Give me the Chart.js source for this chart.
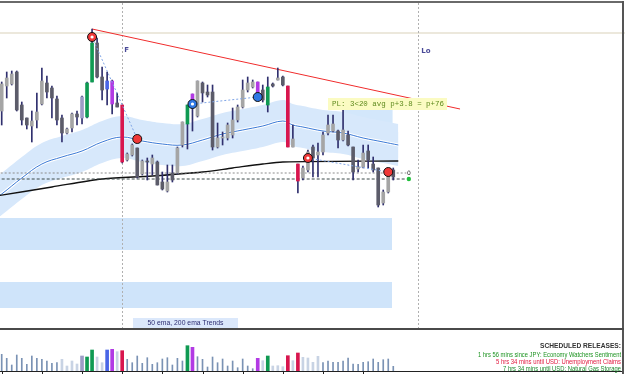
<!DOCTYPE html>
<html>
<head>
<meta charset="utf-8">
<script src="https://cdn.jsdelivr.net/npm/chart.js@4.4.1/dist/chart.umd.min.js"></script>
<style>
  body { margin: 0; background: #fff; }
  #wrap { position: relative; width: 625px; height: 374px; overflow: hidden; }
  #main { position: absolute; left: 0; top: 0; }
  #vol { position: absolute; left: 0; top: 330px; }
</style>
</head>
<body>
<div id="wrap">
  <canvas id="main" width="625" height="330"></canvas>
  <canvas id="vol" width="625" height="44"></canvas>
</div>
<script>
// candles (price in chart units)
const opens  = [289,314,316,328,295,282,274,280,296,317, 312,301,282,267,272,286,282,283,318,357,
                323,319,319,297,295,240,245,252,226,239, 236,238,218,209,227,227,255,276,297,284,
                317,308,308,253,262,262,265,280,293,310, 313,305,310,295,316,320,323,314,253,236,
                222,230,253,245,248,267,269,269,260,265, 253,231,233,249,236,232,197,208,230];
const highs  = [318,328,329,329,298,282,289,307,332,324, 314,304,285,272,287,289,304,318,371,362,
                333,328,320,307,295,247,256,252,240,242, 245,239,228,235,235,253,278,295,306,319,
                318,315,315,277,268,277,292,295,320,323, 320,318,315,323,317,332,324,314,275,236,
                234,250,255,257,268,285,285,270,290,269, 253,240,255,255,243,232,210,230,232];
const lows   = [275,302,315,289,275,271,258,272,295,302, 282,275,258,266,268,275,276,282,318,322,
                300,295,286,293,237,239,244,222,225,220, 225,215,210,208,218,226,253,251,269,283,
                298,303,250,252,255,260,262,278,292,308, 312,300,298,288,313,320,314,253,253,207,
                220,228,223,223,245,265,268,252,259,254, 220,228,232,232,228,193,195,207,220];
const closes = [316,322,326,290,280,275,279,288,319,308, 302,280,267,271,286,283,303,317,357,323,
                310,311,296,293,238,246,255,223,239,238, 242,215,211,218,220,252,278,295,306,319,
                307,305,253,262,263,275,280,293,310,317, 318,318,300,313,314,322,315,253,261,219,
                232,248,242,248,265,275,276,260,270,255, 228,233,247,240,230,195,208,228,223];
// signal colour per candle: g green, r crimson, p purple, b blue, l lavender
const kinds = '----------' + '------lgg-' + '-bp-r-----' + '-------gp-' + '----------' +
              '-p-g---r-r' + '----------' + '---------';

const volumes = [167,127,60,160,127,67,150,127,117,100, 77,83,117,50,100,70,150,140,210,140,
                 83,210,217,193,203,117,83,150,77,133, 67,83,120,133,60,127,100,253,237,143,
                 117,40,140,83,120,50,100,33,120,50, 23,127,103,150,50,53,43,153,103,180,
                 137,130,87,147,83,100,87,87,100,130, 70,67,87,93,120,87,113,120,47];
const volShade = '----------' + '--LLLLL--L' + 'L--L------' + '----------' + '----------' +
                 '--L-LLL-L-' + 'LLLL------' + '---------';

// 50 ema and 200 ema
const ema50At = [-1,0,4,8,12,16,20,24,28,32,36,40,44,48,52,56,58,60,64,68,72,76,79];
const ema50   = [203,206,222,236,243,249,258,263,259,256,255,260,266,270,274,279,275,273,269,267,262,258,255];
const ema200At = [-1,10,20,30,40,46,52,56,79];
const ema200   = [204,213,221,224,228,232,236,238,239];
const bandInner = 13, bandOuter = 21;

const levels = [227, 221];        // dotted order levels
const dayHigh = 367;
const trendFrom = [18, 371], trendTo = [91.3, 291];
const tradeIn  = [18, 38, 61],  tradeInVal  = [363, 296, 242];
const tradeOut = [27, 51, 77],  tradeOutVal = [261, 303, 228];
const tradeSide = ['r', 'b', 'r'];
const zones = [[182, 150], [118, 92]];
const zoneEnd = 77.75;
const trendBox = [68, 77.9, 300, 262];   // from, to, top, bottom
const sessionAt = [24, 83];
const lastIdx = 81.1;

const colors = { g: '#0f9a52', r: '#d8164e', p: '#b23ae4', b: '#4a66e6', l: '#9c9cc6' };
const bull = '#a5a5a5', bear = '#5c5c6a', wick = '#30306e';
const idx = opens.map((_, i) => i);

function bodyColor(i) {
  if (kinds[i] !== '-') return colors[kinds[i]];
  return closes[i] >= opens[i] ? bull : bear;
}
function line(xs, ys, extra) {
  return Object.assign({ type: 'line', data: xs.map((v, i) => ({ x: v, y: ys[i] })),
    pointRadius: 0, borderWidth: 1, fill: false }, extra);
}

const datasets = [];
zones.forEach(z => {
  datasets.push(line([-1, zoneEnd], [z[0], z[0]], { borderWidth: 0, fill: '+1', backgroundColor: '#cfe4fa', order: 40 }));
  datasets.push(line([-1, zoneEnd], [z[1], z[1]], { borderWidth: 0, order: 40 }));
});
datasets.push(line([trendBox[0], trendBox[1]], [trendBox[2], trendBox[2]], { borderWidth: 0, fill: '+1', backgroundColor: '#d3e7fb', order: 36 }));
datasets.push(line([trendBox[0], trendBox[1]], [trendBox[3], trendBox[3]], { borderWidth: 0, order: 36 }));
datasets.push(line(ema50At, ema50.map(v => v + bandOuter), { borderWidth: 0, fill: '+3', backgroundColor: '#d7e8fb', tension: 0.4, order: 35 }));
datasets.push(line(ema50At, ema50.map(v => v + bandInner), { borderWidth: 0, fill: '+1', backgroundColor: '#c3def8', tension: 0.4, order: 35 }));
datasets.push(line(ema50At, ema50.map(v => v - bandInner), { borderWidth: 0, tension: 0.4, order: 35 }));
datasets.push(line(ema50At, ema50.map(v => v - bandOuter), { borderWidth: 0, tension: 0.4, order: 35 }));
datasets.push(line(ema50At, ema50, { borderColor: '#ffffff', borderWidth: 3, tension: 0.4, order: 30 }));
datasets.push(line(ema50At, ema50, { borderColor: '#3b7ad6', borderWidth: 1, tension: 0.4, order: 29 }));
datasets.push(line(ema200At, ema200, { borderColor: '#111111', borderWidth: 1.3, tension: 0.3, order: 28 }));
const dayHighIndex = datasets.length;
datasets.push(line([-1, 125], [dayHigh, dayHigh], { borderColor: '#ece8dc', borderWidth: 2, order: 27 }));
datasets.push(line([-1, 80.6], [levels[0], levels[0]], { borderColor: '#8c8c8c', borderDash: [2, 2], order: 26 }));
datasets.push(line([-1, 80.6], [levels[1], levels[1]], { borderColor: '#3c4a4a', borderDash: [3, 2], order: 26 }));
datasets.push(line([trendFrom[0], trendTo[0]], [trendFrom[1], trendTo[1]], { borderColor: '#f02c2c', order: 25 }));
tradeIn.forEach((t, k) => {
  datasets.push(line([t, tradeOut[k]], [tradeInVal[k], tradeOutVal[k]], { borderColor: '#7ea4e6', borderDash: [2, 2], order: 3 }));
});
datasets.push({ type: 'bar', data: idx.map(i => ({ x: i, y: [lows[i], highs[i]] })),
  backgroundColor: wick, barThickness: 1, grouped: false, order: 6 });
datasets.push({ type: 'bar', data: idx.map(i => ({ x: i, y: [opens[i], closes[i]] })),
  backgroundColor: idx.map(bodyColor), barThickness: 3, minBarLength: 1, grouped: false, order: 5 });
const markX = tradeIn.concat(tradeOut), markY = tradeInVal.concat(tradeOutVal);
const markC = tradeSide.concat(tradeSide).map(s => s === 'r' ? '#f03838' : '#2f78e4');
datasets.push(line(markX, markY, { showLine: false, pointRadius: 4.5, pointBackgroundColor: markC,
  pointBorderColor: '#111', pointBorderWidth: 1, order: 2 }));
datasets.push(line(tradeIn, tradeInVal, { showLine: false, pointRadius: 1.6, pointBackgroundColor: '#fff',
  pointBorderWidth: 0, order: 1 }));
datasets.push(line([lastIdx], [levels[1]], { showLine: false, pointRadius: 2.2, pointBackgroundColor: '#1fbf3a',
  pointBorderWidth: 0, order: 1 }));

const decor = {
  id: 'decor',
  afterDatasetDraw(chart, args) {
    if (args.index !== dayHighIndex) return;
    // session separators sit above the zones but below the candles
    const { ctx, scales: { x } } = chart;
    ctx.save();
    ctx.strokeStyle = '#b0b0b0'; ctx.lineWidth = 1; ctx.setLineDash([2, 2]);
    sessionAt.forEach(s => {
      const px = Math.round(x.getPixelForValue(s)) + 0.5;
      ctx.beginPath(); ctx.moveTo(px, 3); ctx.lineTo(px, 328); ctx.stroke();
    });
    ctx.restore();
  },
  afterDatasetsDraw(chart) {
    const { ctx, scales: { x, y } } = chart;
    ctx.save();
    ctx.fillStyle = '#4a4a98'; ctx.font = 'bold 7px "DejaVu Sans"'; ctx.textBaseline = 'alphabetic';
    ctx.fillText('F', x.getPixelForValue(sessionAt[0]) + 2, 52);
    ctx.fillText('Lo', x.getPixelForValue(sessionAt[1]) + 3, 53);
    // trade summary label
    const bx = x.getPixelForValue(65), by = y.getPixelForValue(302);
    ctx.fillStyle = '#fbfbc2'; ctx.fillRect(bx, by, 119, 12);
    ctx.fillStyle = '#5f8a1e'; ctx.font = '7.5px "Liberation Mono"'; ctx.textAlign = 'center'; ctx.textBaseline = 'middle';
    ctx.fillText('PL: 3<20 avg p+3.8 = p+76', bx + 60, by + 6.5, 112);
    ctx.fillStyle = '#222'; ctx.font = '6px "DejaVu Sans"';
    ctx.fillText('0', x.getPixelForValue(lastIdx), y.getPixelForValue(levels[0]));
    // trend caption
    ctx.fillStyle = '#dbe8fb'; ctx.fillRect(133, 318, 105, 10);
    ctx.fillStyle = '#2c2c70'; ctx.font = '7px "Liberation Sans"';
    ctx.fillText('50 ema, 200 ema Trends', 185.5, 323.5, 76);
    // frame
    ctx.fillStyle = '#6a6a6a'; ctx.fillRect(0, 1, 624, 2);
    ctx.fillStyle = '#555'; ctx.fillRect(622, 1, 2, 330);
    ctx.fillStyle = '#4a4a4a'; ctx.fillRect(0, 328, 624, 2);
    ctx.restore();
  }
};

new Chart(document.getElementById('main'), {
  type: 'bar',
  data: { datasets: datasets },
  options: {
    responsive: false, animation: false,
    layout: { padding: 0, autoPadding: false },
    plugins: { legend: { display: false }, tooltip: { enabled: false } },
    scales: {
      x: { type: 'linear', min: -0.34, max: 124.16, display: false, offset: false },
      y: { min: 70, max: 400, display: false }
    }
  },
  plugins: [decor]
});

// volume panel
const volColor = idx.map(i => kinds[i] !== '-' ? colors[kinds[i]] : null);
const volFrame = {
  id: 'volFrame',
  afterDatasetsDraw(chart) {
    const { ctx, scales: { x } } = chart;
    ctx.save();
    ctx.fillStyle = '#222'; ctx.fillRect(0, 41, 624, 1);
    for (let i = 0; i < 80; i += 8) {
      const px = Math.round(x.getPixelForValue(i));
      ctx.fillRect(px, 41, 1, 3);
    }
    ctx.fillStyle = '#555'; ctx.fillRect(622, 0, 2, 44);
    ctx.textAlign = 'right'; ctx.textBaseline = 'alphabetic';
    ctx.fillStyle = '#333'; ctx.font = 'bold 7px "Liberation Sans"';
    ctx.fillText('SCHEDULED RELEASES:', 621, 18, 81);
    ctx.font = '7px "Liberation Sans"';
    ctx.fillStyle = '#1c9320'; ctx.fillText('1 hrs 56 mins since JPY: Economy Watchers Sentiment', 621, 27, 143);
    ctx.fillStyle = '#e0183e'; ctx.fillText('5 hrs 34 mins until USD: Unemployment Claims', 621, 34, 125);
    ctx.fillStyle = '#1a8a2c'; ctx.fillText('7 hrs 34 mins until USD: Natural Gas Storage', 621, 41, 118);
    ctx.restore();
  }
};
new Chart(document.getElementById('vol'), {
  type: 'bar',
  data: {
    datasets: [
      { data: idx.map(i => ({ x: i, y: volShade[i] === '-' && !volColor[i] ? volumes[i] : null })),
        backgroundColor: '#7a92b4', barThickness: 1, grouped: false },
      { data: idx.map(i => ({ x: i, y: volShade[i] === 'L' && !volColor[i] ? volumes[i] : null })),
        backgroundColor: '#c8d3e4', barThickness: 2, grouped: false },
      { data: idx.map(i => ({ x: i, y: volColor[i] ? volumes[i] : null })),
        backgroundColor: idx.map(i => volColor[i] || '#000'), barThickness: 3, grouped: false }
    ]
  },
  options: {
    responsive: false, animation: false,
    layout: { padding: { bottom: 3 }, autoPadding: false },
    plugins: { legend: { display: false }, tooltip: { enabled: false } },
    scales: {
      x: { type: 'linear', min: -0.34, max: 124.16, display: false, offset: false },
      y: { min: 0, max: 410, display: false }
    }
  },
  plugins: [volFrame]
});
</script>
</body>
</html>
